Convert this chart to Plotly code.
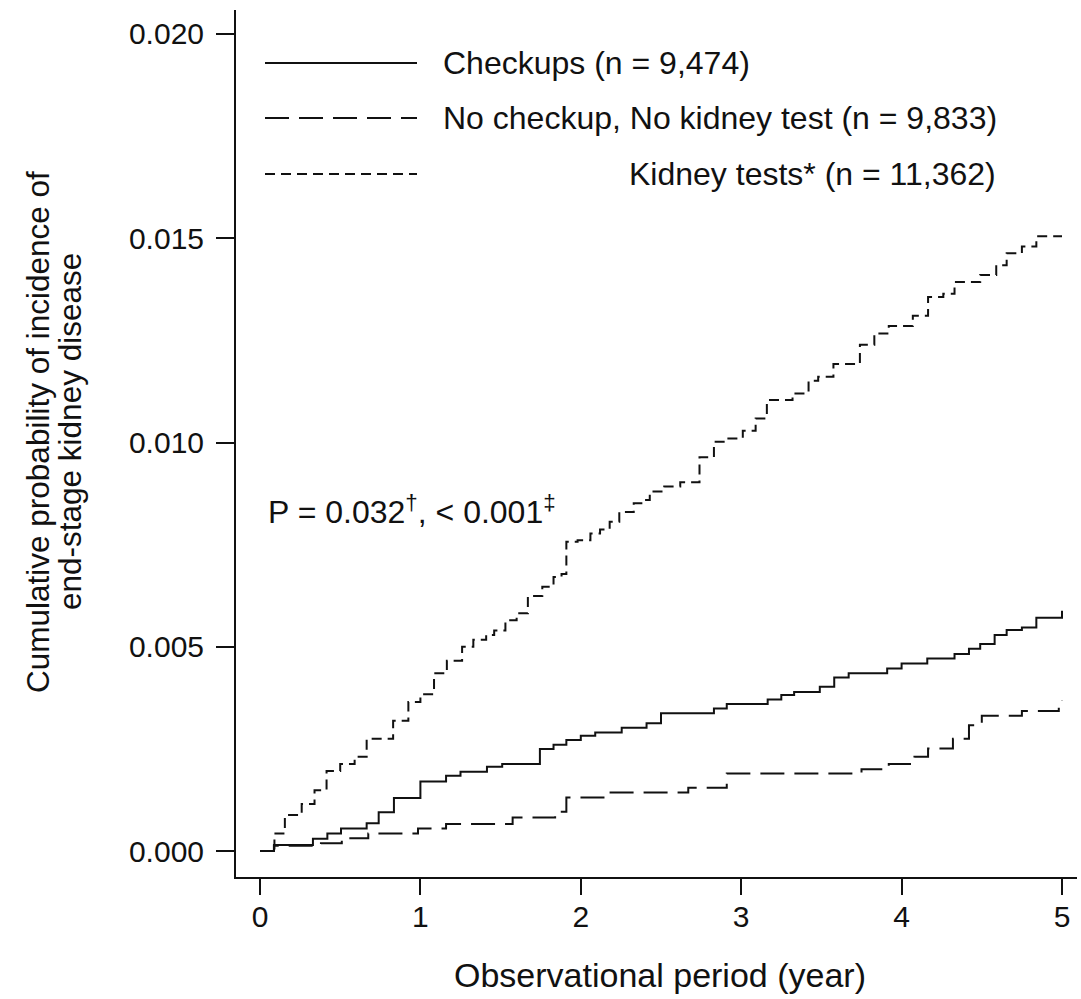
import plotly.graph_objects as go

# ---------------- data ----------------
checkup_x = [0, 0.087, 0.33, 0.42, 0.505, 0.665, 0.74, 0.835, 1.0, 1.16, 1.25, 1.415, 1.51,
             1.745, 1.83, 1.91, 2.0, 2.09, 2.255, 2.41, 2.5, 2.83, 2.91, 3.165, 3.25, 3.33,
             3.49, 3.58, 3.67, 3.91, 4.0, 4.16, 4.33, 4.42, 4.49, 4.58, 4.655, 4.75, 4.84, 5.0]
checkup_y = [0, 0.00015, 0.00030, 0.00043, 0.00055, 0.00068, 0.00095, 0.0013, 0.0017, 0.00184,
             0.00194, 0.00206, 0.00213, 0.0025, 0.0026, 0.00272, 0.00282, 0.0029, 0.00302,
             0.00313, 0.00337, 0.00349, 0.0036, 0.00371, 0.00382, 0.00389, 0.00402, 0.00425,
             0.00435, 0.00447, 0.00459, 0.00471, 0.00482, 0.00495, 0.00507, 0.00529, 0.00541,
             0.00547, 0.00571, 0.00588]

nocheck_x = [0, 0.087, 0.38, 0.51, 0.675, 0.985, 1.16, 1.575, 1.84, 1.91, 2.17, 2.67, 2.91,
             3.75, 3.92, 4.08, 4.165, 4.32, 4.42, 4.5, 4.75, 4.98, 5.0]
nocheck_y = [0, 0.00013, 0.00019, 0.00031, 0.00043, 0.00055, 0.00066, 0.00082, 0.00096,
             0.00131, 0.00143, 0.00155, 0.0019, 0.002, 0.00213, 0.00231, 0.00251, 0.00275,
             0.00308, 0.00331, 0.00343, 0.00353, 0.00368]

kidney_x = [0, 0.09, 0.155, 0.26, 0.34, 0.415, 0.5, 0.59, 0.665, 0.83, 0.925, 1.0, 1.085,
            1.165, 1.26, 1.33, 1.41, 1.46, 1.53, 1.6, 1.67, 1.76, 1.83, 1.88, 1.91, 1.98,
            2.06, 2.12, 2.18, 2.24, 2.33, 2.40, 2.43, 2.52, 2.62, 2.74, 2.83, 2.91, 3.01,
            3.09, 3.16, 3.32, 3.42, 3.48, 3.575, 3.74, 3.83, 3.92, 4.07, 4.165, 4.26, 4.33,
            4.49, 4.59, 4.655, 4.75, 4.84, 5.0]
kidney_y = [0, 0.00043, 0.00088, 0.00115, 0.00149, 0.00196, 0.00213, 0.00231, 0.00275,
            0.00319, 0.00365, 0.00384, 0.00435, 0.00466, 0.005, 0.00517, 0.00529, 0.0054,
            0.00565, 0.00582, 0.00624, 0.00647, 0.00671, 0.00678, 0.00757, 0.00761, 0.00777,
            0.00787, 0.00806, 0.0083, 0.00851, 0.00859, 0.0088, 0.00892, 0.00903, 0.00964,
            0.01002, 0.0101, 0.01029, 0.01059, 0.01104, 0.0112, 0.01151, 0.01161, 0.01192,
            0.01239, 0.01267, 0.01285, 0.0131, 0.01356, 0.01364, 0.01393, 0.0141, 0.01434,
            0.01463, 0.0148, 0.01505, 0.01505]

series_names = ["Checkups (n = 9,474)",
                "No checkup, No kidney test (n = 9,833)",
                "Kidney tests* (n = 11,362)"]
series_dash = ["solid", "24px,10px", "10px,6px"]

x_ticks = [0, 1, 2, 3, 4, 5]
y_ticks = [0.000, 0.005, 0.010, 0.015, 0.020]

x_title = "Observational period (year)"
y_title_lines = ["Cumulative probability of incidence of", "end-stage kidney disease"]
p_text = "P = 0.032<sup>†</sup>, &lt; 0.001<sup>‡</sup>"

# ---------------- layout geometry ----------------
W, H = 1081, 999
ML, MR, MT, MB = 236, 4, 10, 122
PW, PH = W - ML - MR, H - MT - MB
FONT = "Liberation Sans, Arial, Helvetica, sans-serif"
INK = "#111111"


def px(xp):
    return (xp - ML) / PW


def py(yp):
    return 1 - (yp - MT) / PH


fig = go.Figure()
for xs, ys, name, dash in zip([checkup_x, nocheck_x, kidney_x],
                              [checkup_y, nocheck_y, kidney_y],
                              series_names, series_dash):
    fig.add_trace(go.Scatter(x=xs, y=ys, mode="lines", name=name,
                             line=dict(color=INK, width=2, dash=dash, shape="hv"),
                             showlegend=False, hoverinfo="skip"))

shapes = []
annotations = []
legend_rows_y = [63, 118, 174]
legend_text_anchor = [("left", 441), ("left", 441), ("right", 998)]
for (anchor, tx), ly, name, dash in zip(legend_text_anchor, legend_rows_y, series_names, series_dash):
    shapes.append(dict(type="line", xref="paper", yref="paper",
                       x0=px(265), x1=px(417), y0=py(ly), y1=py(ly),
                       line=dict(color=INK, width=2, dash=dash)))
    annotations.append(dict(text=name, xref="paper", yref="paper", x=px(tx), y=py(ly),
                            xanchor=anchor, yanchor="middle", showarrow=False,
                            font=dict(family=FONT, size=32, color=INK)))

annotations.append(dict(text=p_text, xref="paper", yref="paper", x=px(266), y=py(510),
                        xanchor="left", yanchor="middle", showarrow=False,
                        font=dict(family=FONT, size=32, color=INK)))

annotations.append(dict(text=x_title, xref="paper", yref="paper", x=px(660), y=py(975),
                        xanchor="center", yanchor="middle", showarrow=False,
                        font=dict(family=FONT, size=34, color=INK)))
for line, cx in zip(y_title_lines, [38, 70]):
    annotations.append(dict(text=line, xref="paper", yref="paper", x=px(cx), y=py(432),
                            xanchor="center", yanchor="middle", showarrow=False,
                            textangle=-90,
                            font=dict(family=FONT, size=31.5, color=INK)))

fig.update_layout(
    width=W, height=H,
    margin=dict(l=ML, r=MR, t=MT, b=MB, pad=0),
    paper_bgcolor="white", plot_bgcolor="white",
    showlegend=False,
    shapes=shapes, annotations=annotations,
    xaxis=dict(range=[-0.1496, 5.0935], tickvals=x_ticks, ticktext=[str(v) for v in x_ticks],
               ticks="outside", ticklen=16, tickwidth=2, tickcolor=INK,
               showline=True, linewidth=2, linecolor=INK, showgrid=False, zeroline=False,
               tickfont=dict(family=FONT, size=30, color=INK), ticklabelstandoff=-4,
               fixedrange=True),
    yaxis=dict(range=[-0.000636, 0.020587], tickvals=y_ticks,
               ticktext=[f"{v:.3f}" for v in y_ticks],
               ticks="outside", ticklen=18, tickwidth=2, tickcolor=INK,
               showline=True, linewidth=2, linecolor=INK, showgrid=False, zeroline=False,
               tickfont=dict(family=FONT, size=30, color=INK), ticklabelstandoff=6,
               fixedrange=True),
)

fig.write_html("out.html",
               config={"displayModeBar": False},
               post_script="document.body.style.margin='0px';"
                           "document.body.style.overflow='hidden';")
